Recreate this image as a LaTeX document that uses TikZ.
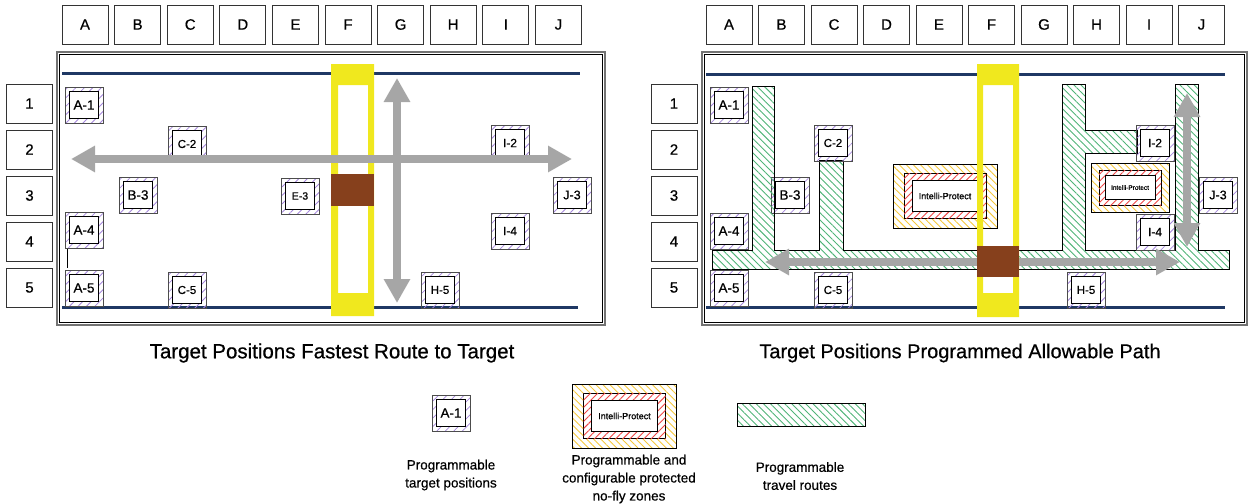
\documentclass[tikz,border=0pt]{standalone}
\usepackage{fontspec}
\setmainfont{Liberation Sans}[FakeBold=0.6]
\usetikzlibrary{arrows.meta,patterns.meta}

\definecolor{railblue}{RGB}{31,56,100}
\definecolor{baryellow}{RGB}{240,232,30}
\definecolor{carbrown}{RGB}{134,64,28}
\definecolor{arrowgray}{RGB}{166,166,166}
\definecolor{routegreen}{RGB}{80,180,120}
\definecolor{tgtpurple}{RGB}{165,135,220}
\definecolor{zoneyellow}{RGB}{245,200,60}
\definecolor{zonered}{RGB}{240,70,70}

\tikzset{
  hdr/.style={draw=black!80, line width=0.8pt, minimum width=46pt, minimum height=39pt, inner sep=0pt, font=\fontsize{15}{15}\selectfont},
  tgtout/.style={draw=black!70, line width=0.6pt, minimum width=38pt, minimum height=36pt, inner sep=0pt,
    pattern={Lines[angle=45,distance=6pt,line width=0.8pt]}, pattern color=tgtpurple},
  tgtin/.style={draw, fill=white, line width=1.2pt, minimum width=29pt, minimum height=27pt, inner sep=0pt},
  zoneout/.style={draw, line width=1pt, inner sep=0pt,
    pattern={Lines[angle=-45,distance=5pt,line width=0.9pt]}, pattern color=zoneyellow},
  zonemid/.style={draw, line width=1pt, fill=white, inner sep=0pt,
    postaction={pattern={Lines[angle=45,distance=5pt,line width=0.9pt]}, pattern color=zonered}},
  zonein/.style={draw, line width=1pt, fill=white, inner sep=0pt},
  route/.style={draw, line width=0.9pt, pattern={Lines[angle=-45,distance=5pt,line width=0.9pt]}, pattern color=routegreen},
  garrow/.style={draw=arrowgray, line width=8pt, arrows={Triangle[length=24pt,width=25pt]-Triangle[length=24pt,width=25pt]}},
  rail/.style={railblue, line width=3pt},
  caption/.style={font=\fontsize{13.5}{18}\selectfont, align=center}
}

\begin{document}
\begin{tikzpicture}[x=1pt,y=-1pt]
    \useasboundingbox (0,0) rectangle (1249,503);

    \foreach \c [count=\i from 0] in {A,B,C,D,E,F,G,H,I,J} {
        \node[hdr] (lcol\c) at (85+52.6*\i,24.5) {\c};
        \node[hdr] (rcol\c) at (729+52.5*\i,24.5) {\c};
    }
    \foreach \r [count=\i from 0] in {1,2,3,4,5} {
        \node[hdr] (lrow\r) at (29.5,103.5+46*\i) {\r};
        \node[hdr] (rrow\r) at (674,103.5+46*\i) {\r};
    }

    \draw[black!55, line width=1.5pt] (57,52) rectangle (605,325);
    \draw[line width=1.5pt] (59.5,54.5) rectangle (602.5,322.5);
    \draw[black!55, line width=1.5pt] (702,52) rectangle (1247,325);
    \draw[line width=1.5pt] (704.5,54.5) rectangle (1244.5,322.5);

    \draw[rail] (62,73) -- (580,73);
    \draw[rail] (62,307) -- (578,307);
    \draw[rail] (706,74) -- (1225,74);
    \draw[rail] (706,307) -- (1225,307);

    \draw[line width=0.8pt] (67,249) -- (67,268);
    \foreach \n/\x/\y/\t/\s in {la1/84/105/A-1/13.5, lc2/187/144/C-2/11.5, lb3/138/195/B-3/13.5,
        le3/300/196/E-3/10.5, la4/84/230/A-4/13.5, la5/84/288/A-5/13.5, lc5/187/290/C-5/11.5,
        li2/510/143/I-2/12, lj3/572/195/J-3/12.5, li4/510/231/I-4/12, lh5/440/290/H-5/11.5} {
        \node[tgtout] at (\x,\y) {};
        \node[tgtin, font=\fontsize{\s}{\s}\selectfont] (\n) at (\x,\y) {\t};
    }

    \fill[baryellow, even odd rule] (331,64) rectangle (374,316) (338,85) rectangle (368,293);
    \fill[carbrown] (331,174) rectangle (374,206);

    \coordinate (lwest) at (71,159);
    \coordinate (least) at (572,159);
    \coordinate (lnorth) at (397,78);
    \coordinate (lsouth) at (397,303);
    \draw[garrow] (lwest) -- (least);
    \draw[garrow] (lnorth) -- (lsouth);

    \node[font=\fontsize{20.5}{20.5}\selectfont] (ltitle) at (332,353) {Target Positions Fastest Route to Target};

    \foreach \n/\x/\y/\t/\s in {ra1/729/105/A-1/13.5, ra4/729/231/A-4/13.5, ra5/729/288/A-5/13.5,
        rb3/790/195/B-3/13.5} {
        \node[tgtout] at (\x,\y) {};
        \node[tgtin, font=\fontsize{\s}{\s}\selectfont] (\n) at (\x,\y) {\t};
    }

    \draw[route] (752,86) -- (774,86) -- (774,250) -- (819,250) -- (819,160) -- (843,160) -- (843,250)
        -- (1062,250) -- (1062,84) -- (1085,84) -- (1085,130) -- (1137,130) -- (1137,153) -- (1085,153)
        -- (1085,250) -- (1175,250) -- (1175,84) -- (1198,84) -- (1198,250) -- (1229,250) -- (1229,269)
        -- (712,269) -- (712,250) -- (752,250) -- cycle;

    \foreach \n/\x/\y/\t/\s in {rc2/833/143/C-2/11.5, rc5/833/290/C-5/11.5, ri2/1155/143/I-2/12,
        rj3/1218/195/J-3/12.5, ri4/1155/232/I-4/12, rh5/1086/290/H-5/11.5} {
        \node[tgtout] at (\x,\y) {};
        \node[tgtin, font=\fontsize{\s}{\s}\selectfont] (\n) at (\x,\y) {\t};
    }

    \coordinate (rwest) at (765,262);
    \coordinate (reast) at (1180,262);
    \coordinate (rnorth) at (1187,93);
    \coordinate (rsouth) at (1187,247);
    \draw[garrow] (rwest) -- (reast);
    \draw[garrow] (rnorth) -- (rsouth);

    \node[zoneout, minimum width=104pt, minimum height=64pt] at (945,196) {};
    \node[zonemid, minimum width=82pt, minimum height=45pt] at (945,196) {};
    \node[zonein, minimum width=66pt, minimum height=31pt, font=\fontsize{9}{9}\selectfont] (rzoneA) at (945,196) {Intelli-Protect};

    \node[zoneout, minimum width=78pt, minimum height=49pt] at (1130,187.5) {};
    \node[zonemid, minimum width=62pt, minimum height=35pt] at (1130,187.5) {};
    \node[zonein, minimum width=50pt, minimum height=24pt, font=\fontsize{6.5}{6.5}\selectfont] (rzoneB) at (1130,187.5) {Intelli-Protect};

    \fill[baryellow, even odd rule] (977,64) rectangle (1019,317) (983,85) rectangle (1013,293);
    \fill[carbrown] (977,246) rectangle (1019,277);

    \node[font=\fontsize{20}{20}\selectfont] (rtitle) at (960,353) {Target Positions Programmed Allowable Path};

    \node[tgtout] at (451,413) {};
    \node[tgtin, font=\fontsize{13.5}{13.5}\selectfont] (keytgt) at (451,413) {A-1};
    \node[zoneout, minimum width=104pt, minimum height=64pt] at (624.5,416) {};
    \node[zonemid, minimum width=82pt, minimum height=45pt] at (624.5,416) {};
    \node[zonein, minimum width=66pt, minimum height=31pt, font=\fontsize{9}{9}\selectfont] (keyzone) at (624.5,416) {Intelli-Protect};
    \draw[route] (737,403) rectangle (865,426);
    \coordinate (keyroute) at (801,414.5);

    \node[caption] at (451,475) {Programmable\\target positions};
    \node[caption] at (629,479) {Programmable and\\configurable protected\\no-fly zones};
    \node[caption] at (800,476) {Programmable\\travel routes};
\end{tikzpicture}
\end{document}
